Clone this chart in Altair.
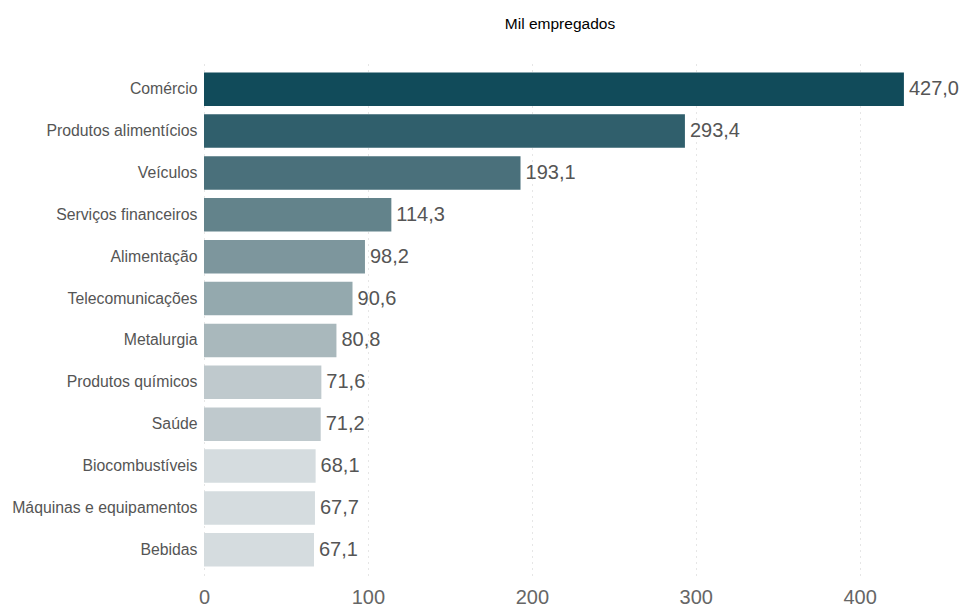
import altair as alt
import pandas as pd

categories = ["Comércio", "Produtos alimentícios", "Veículos", "Serviços financeiros",
              "Alimentação", "Telecomunicações", "Metalurgia", "Produtos químicos",
              "Saúde", "Biocombustíveis", "Máquinas e equipamentos", "Bebidas"]
values = [427.0, 293.4, 193.1, 114.3, 98.2, 90.6, 80.8, 71.6, 71.2, 68.1, 67.7, 67.1]
colors = ["#114B5A", "#305F6C", "#4A707B", "#63838B", "#7D969D", "#94A9AE",
          "#A9B8BC", "#BFC9CD", "#BFC9CD", "#D5DCDF", "#D5DCDF", "#D5DCDF"]
x_ticks = [0, 100, 200, 300, 400]

df = pd.DataFrame({
    "cat": categories,
    "val": values,
    "color": colors,
    "label": [f"{v:.1f}".replace(".", ",") for v in values],
})

FONT = "Liberation Sans"

y_enc = alt.Y("cat:N", sort=categories, title=None,
              scale=alt.Scale(paddingInner=0.2, paddingOuter=0.2),
              axis=alt.Axis(labelFontSize=15.8, labelColor="#555555", labelFont=FONT,
                            labelPadding=7, ticks=False, domain=False, grid=False,
                            labelLimit=300))
x_enc = alt.X("val:Q", title=None,
              scale=alt.Scale(domain=[0, 460], nice=False),
              axis=alt.Axis(values=x_ticks, labelFontSize=20, labelColor="#666666",
                            labelFont=FONT, labelPadding=12, ticks=False, domain=False,
                            grid=True, gridDash=[1, 5], gridColor="#cccccc",
                            labelFlush=False))

bars = alt.Chart(df).mark_bar().encode(
    x=x_enc, y=y_enc, color=alt.Color("color:N", scale=None)
)
texts = alt.Chart(df).mark_text(align="left", baseline="middle", dx=5,
                                fontSize=20, color="#555555", font=FONT).encode(
    x="val:Q", y=alt.Y("cat:N", sort=categories), text="label:N"
)

chart = alt.layer(bars, texts).properties(
    width=754, height=511,
    title=alt.TitleParams("Mil empregados", fontSize=15.5, font=FONT, fontWeight="normal",
                          color="#000000", anchor="middle", dx=-21, offset=32),
    autosize=alt.AutoSizeParams(type="none"),
    padding={"left": 204, "top": 64, "right": 5, "bottom": 32},
).configure(background="white").configure_view(stroke=None, strokeWidth=0)

chart.save("out.html", embed_options={"renderer": "svg", "actions": False})
